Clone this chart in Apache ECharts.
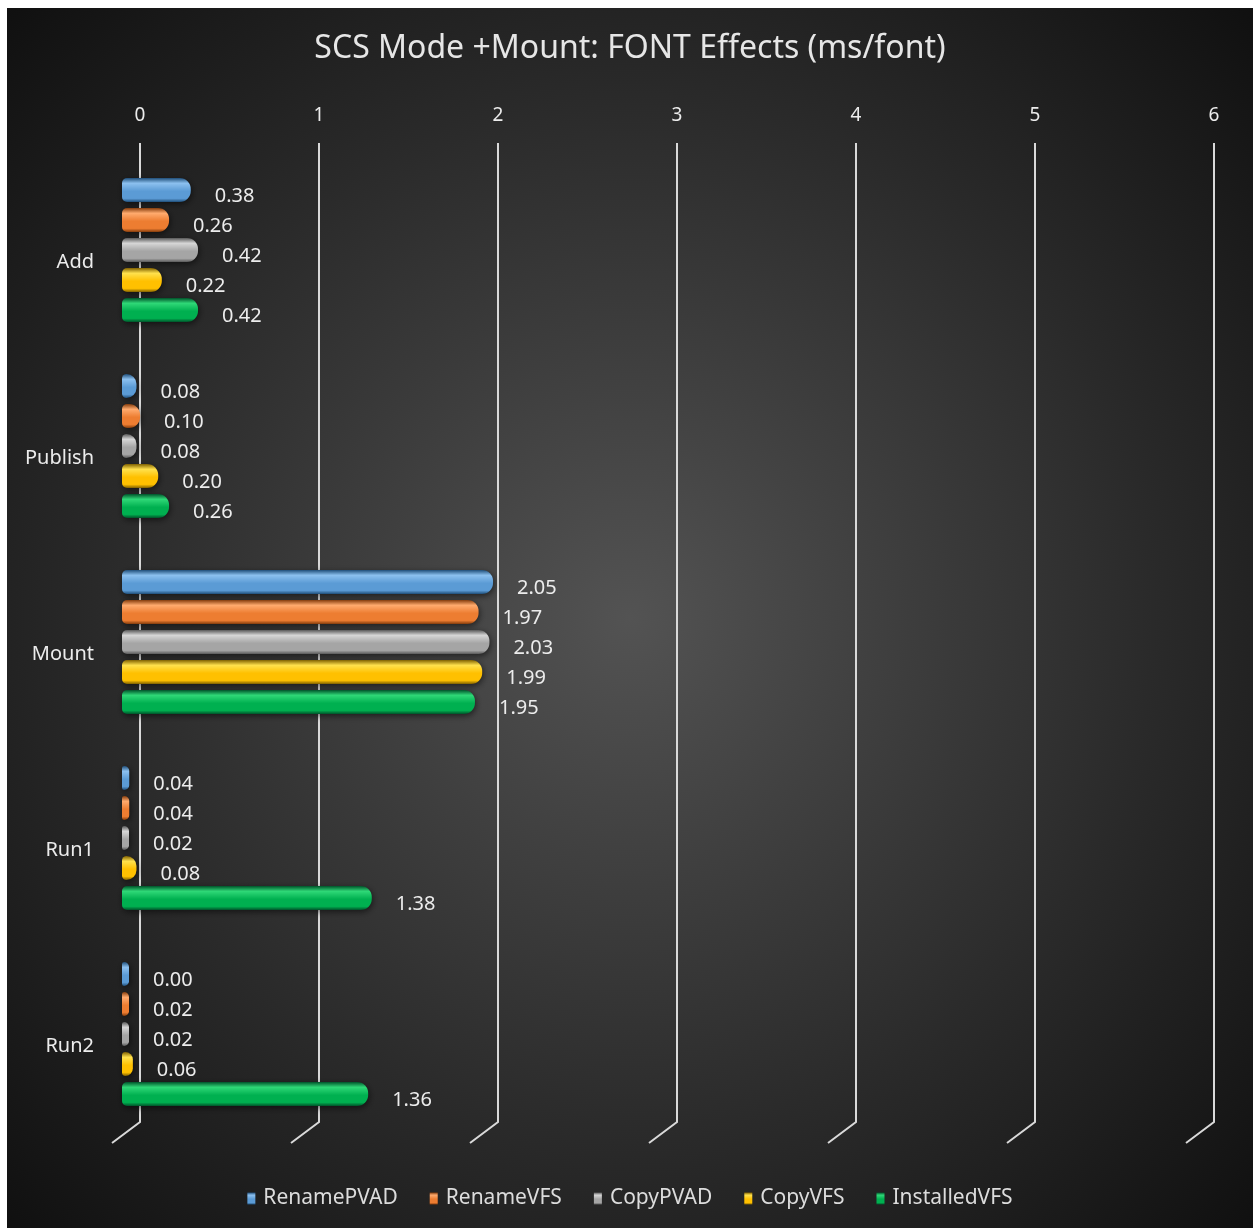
<!DOCTYPE html>
<html>
<head>
<meta charset="utf-8">
<title>SCS Mode +Mount: FONT Effects (ms/font)</title>
<script src="https://cdn.jsdelivr.net/npm/echarts@6/dist/echarts.min.js"></script>
<style>
  html, body { margin: 0; padding: 0; background: #ffffff; }
  #chart { position: absolute; left: 7px; top: 8px; width: 1246px; height: 1220px; }
</style>
</head>
<body>
<div id="chart"></div>
<script>
// Phases measured, top to bottom
const categories = ['Add', 'Publish', 'Mount', 'Run1', 'Run2'];

// Per-font cost (ms/font) for each install method
const renamePVAD   = [0.38, 0.08, 2.05, 0.04, 0.00];
const renameVFS    = [0.26, 0.10, 1.97, 0.04, 0.02];
const copyPVAD     = [0.42, 0.08, 2.03, 0.02, 0.02];
const copyVFS      = [0.22, 0.20, 1.99, 0.08, 0.06];
const installedVFS = [0.42, 0.26, 1.95, 1.38, 1.36];

// Value axis ticks
const xTicks = [0, 1, 2, 3, 4, 5, 6];

const seriesNames = ['RenamePVAD', 'RenameVFS', 'CopyPVAD', 'CopyVFS', 'InstalledVFS'];
const seriesData = [renamePVAD, renameVFS, copyPVAD, copyVFS, installedVFS];
const seriesColors = [
  { base: '#5B9BD5', light: '#8cc0ef', dark: '#1f4e79' },
  { base: '#ED7D31', light: '#ffab6e', dark: '#843c0c' },
  { base: '#A5A5A5', light: '#d6d6d6', dark: '#595959' },
  { base: '#FFC000', light: '#ffe14d', dark: '#7f6000' },
  { base: '#00B050', light: '#2fd877', dark: '#00532a' }
];

const FONT = '"Noto Sans", "DejaVu Sans", sans-serif';
const TEXT = '#ececec';

function barGradient(c) {
  return {
    type: 'linear', x: 0, y: 0, x2: 0, y2: 1,
    colorStops: [
      { offset: 0, color: c.dark },
      { offset: 0.22, color: c.light },
      { offset: 0.55, color: c.base },
      { offset: 0.85, color: c.base },
      { offset: 1, color: c.dark }
    ]
  };
}

const barSeries = seriesNames.map((name, i) => ({
  name: name,
  type: 'bar',
  xAxisIndex: 0,
  yAxisIndex: 0,
  data: seriesData[i],
  barWidth: 24,
  barGap: '25%',
  barMinHeight: 7,
  z: 3,
  itemStyle: {
    color: barGradient(seriesColors[i]),
    borderRadius: [5, 11, 11, 5],
    shadowColor: 'rgba(0,0,0,0.55)',
    shadowBlur: 6,
    shadowOffsetX: 1,
    shadowOffsetY: 2
  },
  label: {
    show: true,
    position: 'right',
    distance: 24,
    offset: [0, 6],
    color: TEXT,
    fontFamily: FONT,
    fontSize: 20,
    formatter: p => p.value.toFixed(2)
  }
}));

// Gridlines: vertical rule at each tick, bending down-left at the floor
const gridlineSeries = {
  type: 'custom',
  xAxisIndex: 1,
  yAxisIndex: 1,
  silent: true,
  z: 1,
  data: xTicks.map(v => [v]),
  renderItem: function (params, api) {
    const v = api.value(0);
    const top = api.coord([v, 1]);
    const bot = api.coord([v, 0]);
    return {
      type: 'polyline',
      shape: { points: [[top[0], top[1]], [bot[0], bot[1]], [bot[0] - 28, bot[1] + 21]] },
      style: { stroke: '#d9d9d9', lineWidth: 2, fill: null }
    };
  }
};

const chart = echarts.init(document.getElementById('chart'));
chart.setOption({
  backgroundColor: {
    type: 'radial', x: 0.5, y: 0.5, r: 0.78,
    colorStops: [
      { offset: 0, color: '#535353' },
      { offset: 0.55, color: '#2a2a2a' },
      { offset: 1, color: '#0a0a0a' }
    ]
  },
  animation: false,
  title: {
    text: 'SCS Mode +Mount: FONT Effects (ms/font)',
    left: 'center',
    top: 20,
    textStyle: { color: '#e6e6e6', fontFamily: FONT, fontSize: 32, fontWeight: 'normal' }
  },
  legend: {
    data: seriesNames,
    bottom: 14,
    left: 'center',
    icon: 'rect',
    itemWidth: 8,
    itemHeight: 12,
    itemGap: 32,
    textStyle: { color: '#dcdcdc', fontFamily: FONT, fontSize: 21, padding: [0, 0, 0, 3] }
  },
  grid: [
    { left: 115, top: 144, width: 1086, height: 980 },
    { left: 133, top: 135, width: 1074, height: 979 }
  ],
  xAxis: [
    {
      gridIndex: 0, type: 'value', min: 0, max: 6, interval: 1,
      show: false
    },
    {
      gridIndex: 1, type: 'value', min: 0, max: 6, interval: 1,
      position: 'top',
      axisLine: { show: false },
      axisTick: { show: false },
      splitLine: { show: false },
      axisLabel: { color: TEXT, fontFamily: FONT, fontSize: 19, margin: 18 }
    }
  ],
  yAxis: [
    {
      gridIndex: 0, type: 'category', data: categories, inverse: true,
      axisLine: { show: false },
      axisTick: { show: false },
      splitLine: { show: false },
      axisLabel: { color: TEXT, fontFamily: FONT, fontSize: 20, margin: 28, verticalAlign: 'top', lineHeight: 24 }
    },
    {
      gridIndex: 1, type: 'value', min: 0, max: 1, show: false
    }
  ],
  series: [gridlineSeries].concat(barSeries)
});
</script>
</body>
</html>
